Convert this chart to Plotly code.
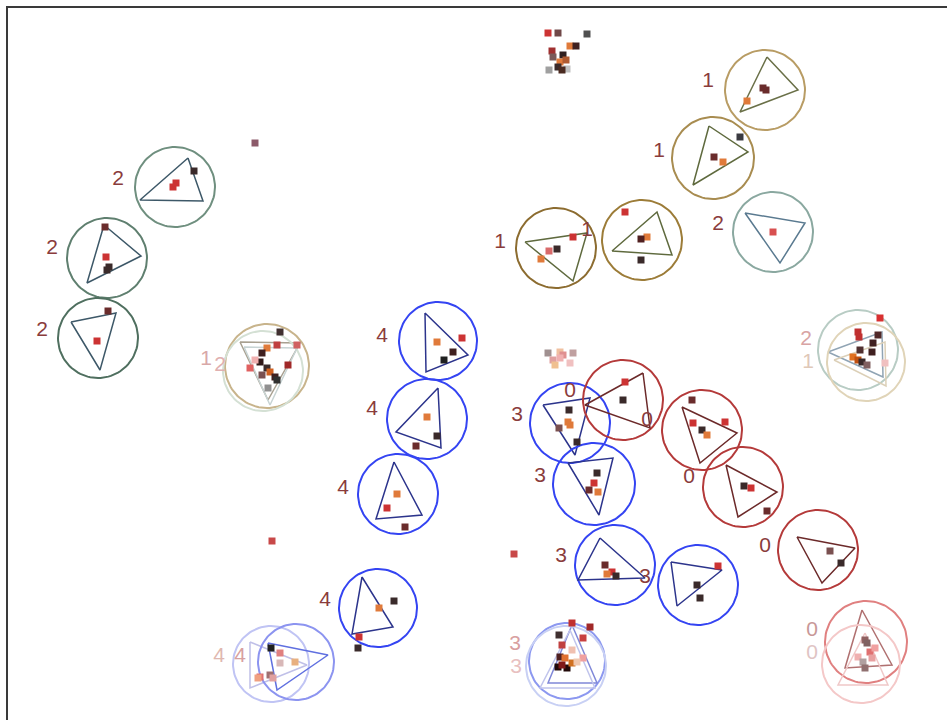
import numpy as np
import plotly.graph_objects as go

# ---- rings: centre, radius, triangle corners, cluster label -------------
ring_cx = [175, 107, 98, 267, 263, 765, 713, 556, 642, 773, 858, 866,
           438, 427, 398, 378, 271, 296, 567, 566, 570, 623, 594, 702,
           743, 818, 866, 861, 698, 615]
ring_cy = [187, 258, 338, 366, 371, 90, 158, 248, 240, 232, 350, 362,
           341, 419, 494, 608, 664, 662, 661, 666, 423, 400, 484, 430,
           487, 550, 642, 664, 585, 565]
ring_r = [40, 40, 40, 42, 40, 40, 41, 40, 40, 40, 40, 39,
          39, 40, 40, 39, 38, 38, 38, 40, 40, 40, 41, 40,
          40, 40, 41, 39, 40, 40]
tri_x = [(188, 203, 140), (104, 141, 87), (71, 116, 100), (240, 300, 268),
         (244, 297, 270), (767, 798, 740), (709, 748, 693), (525, 587, 573),
         (612, 672, 657), (745, 805, 780), (828, 882, 883), (834, 885, 886),
         (425, 426, 468), (438, 441, 396), (394, 422, 376), (362, 352, 393),
         (250, 250, 307), (268, 277, 328), (572, 548, 597), (570, 540, 595),
         (543, 590, 575), (643, 650, 585), (568, 613, 599), (682, 737, 700),
         (726, 777, 738), (797, 855, 822), (862, 845, 892), (865, 838, 888),
         (671, 722, 677), (600, 578, 645)]
tri_y = [(158, 201, 200), (225, 256, 283), (322, 313, 370), (342, 343, 400),
         (347, 348, 405), (57, 90, 112), (126, 152, 185), (242, 233, 281),
         (251, 255, 212), (213, 223, 263), (352, 332, 377), (360, 342, 386),
         (313, 372, 355), (388, 448, 432), (462, 515, 519), (577, 634, 627),
         (642, 688, 665), (643, 690, 655), (625, 683, 683), (630, 688, 688),
         (405, 398, 455), (373, 428, 405), (463, 458, 515), (407, 433, 463),
         (465, 492, 517), (537, 548, 583), (610, 668, 665), (633, 685, 685),
         (562, 570, 606), (538, 580, 578)]
ring_label = ["2", "2", "2", "1", "2", "1", "1", "1", "1", "2", "2", "1",
              "4", "4", "4", "4", "4", "4", "3", "3", "3", "0", "3", "0",
              "0", "0", "0", "0", "3", "3"]
label_x = [118, 52, 42, 206, 220, 708, 659, 500, 587, 718, 806, 808,
           382, 372, 343, 325, 219, 240, 515, 516, 517, 570, 540, 647,
           689, 765, 812, 812, 645, 561]
label_y = [180, 249, 331, 360, 366, 82, 152, 243, 231, 225, 340, 363,
           337, 410, 489, 601, 657, 657, 645, 668, 416, 392, 477, 421,
           478, 547, 631, 654, 578, 557]

# ---- scattered samples ----------------------------------------------------
RED, DARK, DRED, ORG, PINK, MAUV = ("#cc3333", "#3a2a2a", "#6a2c2c",
                                    "#e07a3a", "#d86a6a", "#7a5050")
pt_x = [548, 558, 587, 552, 553, 563, 570, 576, 560, 558, 549, 567, 562, 566,
        173, 176, 194, 106, 109, 107, 105, 97, 108,
        280, 277, 297, 267, 262, 260, 255, 250, 267, 270, 288, 275, 277, 268, 262,
        255, 272, 514,
        766, 763, 747, 740, 714, 723, 573, 557, 549, 541, 625, 647, 641, 641, 773,
        880, 858, 859, 878, 873, 872, 860, 853, 858, 862, 867, 885,
        437, 462, 453, 444, 427, 437, 416, 397, 387, 405, 379, 394, 359, 358,
        280, 280, 295, 260, 258, 270, 273, 271,
        572, 590, 559, 583, 562, 572, 560, 565, 583, 558, 567, 562, 572, 577,
        569, 568, 570, 559, 577, 625, 623, 597, 594, 589, 598,
        692, 693, 725, 702, 707, 744, 751, 767, 830, 841,
        865, 867, 870, 875, 858, 863, 865, 872,
        718, 697, 700, 605, 612, 607, 616,
        548, 560, 563, 573, 553, 555, 570, 560]
pt_y = [33, 33, 34, 51, 57, 55, 46, 46, 62, 67, 70, 69, 70, 60,
        187, 183, 171, 257, 267, 270, 227, 341, 311,
        332, 345, 345, 348, 353, 362, 360, 368, 368, 372, 365, 377, 380, 388, 375,
        143, 541, 554,
        90, 88, 101, 137, 157, 162, 237, 249, 251, 259, 212, 237, 239, 260, 232,
        318, 332, 337, 335, 343, 352, 350, 357, 360, 362, 365, 363,
        342, 338, 352, 360, 417, 436, 446, 494, 508, 527, 608, 601, 637, 648,
        653, 663, 662, 677, 678, 675, 678, 648,
        623, 627, 635, 638, 645, 650, 657, 658, 658, 667, 668, 665, 663, 662,
        410, 422, 425, 428, 442, 382, 400, 473, 483, 490, 492,
        400, 423, 422, 430, 435, 486, 488, 511, 551, 563,
        640, 643, 652, 648, 657, 662, 668, 658,
        566, 585, 598, 565, 572, 574, 576,
        353, 352, 355, 353, 360, 365, 363, 358]
pt_c = [RED, "#704848", "#505050", "#a03030", "#7a5a5a", "#302020", ORG, "#402020",
        ORG, DARK, "#a0a0a0", "#c0c0c0", "#4a2a20", "#b05a30",
        RED, RED, DARK, RED, DARK, DARK, DRED, RED, DRED,
        "#403030", "#c04040", "#d06060", ORG, "#402020", "#301818", "#f0b0b0",
        "#e06060", DARK, "#d06020", "#a02828", "#402020", "#303030", "#909090", MAUV,
        "#8c5a6a", "#c84848", "#c84848",
        DRED, DRED, ORG, "#3a3a40", DRED, ORG, RED, DARK, PINK, ORG,
        RED, ORG, "#502020", DARK, "#d85050",
        "#d83030", "#c03030", "#c03030", "#502828", "#402020", "#402020", "#503030",
        "#e07020", "#c05010", DARK, "#806060", "#f0c0c0",
        ORG, RED, "#402020", "#202020", ORG, DARK, DRED, ORG, RED, DRED,
        ORG, DARK, RED, DARK,
        "#e08080", "#d8b8b8", "#e8b080", "#e07070", "#f0a080", "#a07070",
        "#e0a0a0", "#202020",
        "#c03030", "#a02828", "#403030", "#c84040", "#c04040", "#f0c0b0",
        "#502020", "#e07030", "#f0a0a0", "#200808", "#200808", "#801818",
        "#d07020", "#f0c8b0",
        DARK, ORG, ORG, MAUV, DARK, RED, DARK, DARK, RED, DRED, ORG,
        DRED, RED, RED, DARK, ORG, DARK, RED, DRED, MAUV, DARK,
        "#906060", "#806060", "#e07070", "#f0a0a0", "#f0b0b0", "#b0a0a0",
        "#907070", "#e8a0a0",
        RED, DARK, DARK, DRED, RED, ORG, DARK,
        "#a09090", "#f0c0a0", "#e09090", "#c0a0a0", "#e0a0a0", "#f0c090",
        "#f0c0c0", "#f0b0b0"]

# ---- per-ring styling -----------------------------------------------------
BLUE, BTRI = "#3444f2", "#2c348c"
REDR, RTRI = "#b43a3a", "#6c2a2a"
LAB = "#8a3c3c"
ring_col = ["#6f8f7f", "#5f7f6f", "#4f6f5f", "#c8b48c", "#d4e0d4",
            "#b89c64", "#a88c50", "#8c6c30", "#9c7c38", "#8aa8a0",
            "#b8ccc4", "#e0d4b8",
            BLUE, BLUE, BLUE, BLUE, "#c0c4f4", "#8c94f0", "#8c98f0", "#c8d0f4",
            BLUE, REDR, BLUE, REDR, REDR, REDR, "#e08080", "#f4c8c8", BLUE, BLUE]
tri_col = ["#3d5868", "#3d5868", "#3d5868", "#a8a090", "#c8d4d4",
           "#6a7048", "#5f6a3e", "#5f6a3e", "#5f6a3e", "#5a7a90",
           "#90a4b4", "#dcd0b8",
           BTRI, BTRI, BTRI, BTRI, "#c0c0e8", "#6070e0", "#8088d8", "#c0c4ec",
           BTRI, RTRI, BTRI, RTRI, RTRI, RTRI, "#b07070", "#f0c8c8", BTRI, BTRI]
label_col = [LAB, LAB, LAB, "#d8a8a8", "#e0b0b0", LAB, LAB, LAB, LAB, LAB,
             "#d8a4a4", "#e0c8b8",
             LAB, LAB, LAB, LAB, "#e0b8b0", "#d8a0a0", "#d8a0a0", "#e8c0c0",
             LAB, LAB, LAB, LAB, LAB, LAB, "#c89898", "#e0c4c4", LAB, LAB]

fig = go.Figure()
theta = np.linspace(0, 2 * np.pi, 97)

for i in range(len(ring_cx)):
    fig.add_trace(go.Scatter(
        x=ring_cx[i] + ring_r[i] * np.cos(theta),
        y=ring_cy[i] + ring_r[i] * np.sin(theta),
        mode="lines", line=dict(color=ring_col[i], width=2),
        hoverinfo="skip"))
    tx = list(tri_x[i]) + [tri_x[i][0]]
    ty = list(tri_y[i]) + [tri_y[i][0]]
    fig.add_trace(go.Scatter(
        x=tx, y=ty, mode="lines",
        line=dict(color=tri_col[i], width=1.5), hoverinfo="skip"))

fig.add_trace(go.Scatter(
    x=label_x, y=label_y, mode="text", text=ring_label,
    textfont=dict(family="Liberation Sans", size=21, color=label_col),
    textposition="middle center", hoverinfo="skip"))

fig.add_trace(go.Scatter(
    x=pt_x, y=pt_y, mode="markers",
    marker=dict(symbol="square", size=7, color=pt_c, line=dict(width=0)),
    hoverinfo="skip"))

axis_common = dict(showgrid=False, zeroline=False, showticklabels=False,
                   ticks="", showline=True, linecolor="#3a3a3a", linewidth=2)
fig.update_layout(
    width=947, height=720,
    margin=dict(l=8, t=8, r=0, b=0),
    paper_bgcolor="white", plot_bgcolor="white",
    showlegend=False,
    xaxis=dict(range=[8, 947], side="top", **axis_common),
    yaxis=dict(range=[720, 8], **axis_common),
)

fig.write_html("out.html")
